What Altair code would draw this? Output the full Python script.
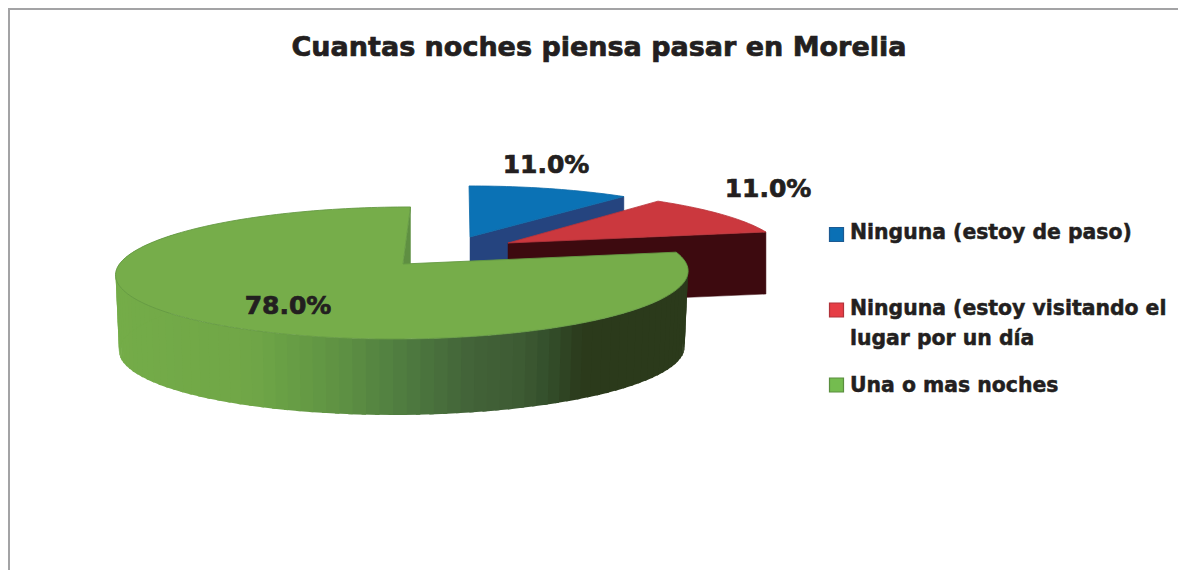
import math
import altair as alt
import pandas as pd

# ---------- data ----------
categories = ["Ninguna (estoy de paso)", "Ninguna (estoy visitando el lugar por un día", "Una o mas noches"]
shares = [11.0, 11.0, 78.0]
value_labels = ["11.0%", "11.0%", "78.0%"]
value_x = [546, 768, 288]
value_y = [165, 189, 306]
legend_lines = ["Ninguna (estoy de paso)", "Ninguna (estoy visitando el", "lugar por un día", "Una o mas noches"]
legend_line_y = [233, 309, 339, 386]
legend_key_y = [234.5, 310, 385]
legend_key_fill = ["#0a70b5", "#e63e46", "#74bc4f"]
legend_key_stroke = ["#1d5a92", "#b0333a", "#5a8e3f"]
title_text = "Cuantas noches piensa pasar en Morelia"

# ---------- pie look (position in page pixels, 3D perspective) ----------
INK = "#231f20"
K = 0.136
look = [
    dict(x0=470, y0=237, a=268, s=-1.1, b=58, depth=62, top="#0b72b5", edge="#0b6aa8", wall="#25447f"),
    dict(x0=508, y0=243, a=271, s=-9.1, b=60, depth=62, top="#cb383e", edge="#b9343a", wall="#3d0a0f"),
    dict(x0=403, y0=264, a=283.5, s=8.5, b=64.8, depth=76, top="#76ad4a", edge="#659a44", wall="#5f8f42"),
]
wall_stops = [(116, "#74ac48"), (250, "#70a647"), (280, "#69a045"), (340, "#5e9143"), (400, "#4f7c40"),
              (470, "#426238"), (520, "#3d5a33"), (545, "#344f2c"), (580, "#2b3a1b"), (700, "#2b3a1b")]


def mix(x):
    for (x1, c1), (x2, c2) in zip(wall_stops, wall_stops[1:]):
        if x <= x2:
            t = max(0.0, (x - x1) / (x2 - x1))
            p = [int(c1[i:i + 2], 16) for i in (1, 3, 5)]
            q = [int(c2[i:i + 2], 16) for i in (1, 3, 5)]
            return "#" + "".join(f"{round(u + (v - u) * t):02x}" for u, v in zip(p, q))
    return wall_stops[-1][1]


def proj(deg, g, down=0.0, shrink=1.0):
    th = math.radians(deg)
    X, Y = math.sin(th), math.cos(th)
    w = 1 + K * Y
    return [g["x0"] + (g["a"] * shrink * X + g["s"] * Y) / w, g["y0"] + down - g["b"] * Y / w]


def feature(points, fill, stroke, sw):
    return {"type": "Feature",
            "geometry": {"type": "Polygon", "coordinates": [points + [points[0]]]},
            "properties": {"fill": fill, "stroke": stroke, "sw": sw}}


def arc(a0, a1, g, down=0.0, shrink=1.0):
    n = max(2, int((a1 - a0) / 1.5))
    return [proj(a0 + (a1 - a0) * i / n, g, down, shrink) for i in range(n + 1)]


features = []
edges = [0.0]
for v in shares:
    edges.append(edges[-1] + v * 3.6)

# blue and red: the radial face that looks at the viewer, then the top
for i in (0, 1):
    g = look[i]
    apex = [g["x0"], g["y0"]]
    tip = proj(edges[i + 1], g)
    tip_low = proj(edges[i + 1], g, g["depth"])
    features.append(feature([apex, tip, tip_low, [apex[0], apex[1] + g["depth"]]], g["wall"], g["wall"], 0.5))
    features.append(feature([apex] + arc(edges[i], edges[i + 1], g), g["top"], g["edge"], 0.8))

# green: the notch face, the outer wall in narrow strips, then the top
g = look[2]
apex = [g["x0"], g["y0"]]
start = proj(360, g)
features.append(feature([apex, start, proj(360, g, g["depth"]), [apex[0], apex[1] + g["depth"]]], "#5f8f42", "#5f8f42", 0.5))
step = 2.4
d = edges[2]
while d < 300:
    e = min(d + step, 300)
    # each strip reaches a little under the next one, so no seam shows
    pts = [proj(d, g), proj(e + 0.8, g), proj(e + 0.8, g, g["depth"], 0.988), proj(d, g, g["depth"], 0.988)]
    c = mix(sum(p[0] for p in pts) / 4)
    features.append(feature(pts, c, c, 0))
    d = e
features.append(feature([apex] + arc(edges[2], 360, g), g["top"], g["edge"], 0.9))

# ---------- chart ----------
W, H = 1170, 562
xs = alt.Scale(domain=[0, 1178], range=[-8, 1170])
ys = alt.Scale(domain=[0, 570], range=[-8, 562])
X = lambda f: alt.X(f, type="quantitative", scale=xs, axis=None)
Y = lambda f: alt.Y(f, type="quantitative", scale=ys, axis=None)

pie = (
    alt.Chart(alt.Data(values=features))
    .mark_geoshape()
    .project(type="identity", scale=1, translate=[-8, -8])
    .encode(
        color=alt.Color("properties.fill:N", scale=None),
        stroke=alt.Stroke("properties.stroke:N", scale=None),
        strokeWidth=alt.StrokeWidth("properties.sw:Q", scale=None),
    )
)

frame = pd.DataFrame({"x": [8, 9], "x2": [1178, 9], "y": [9, 8], "y2": [9, 570]})
border = alt.Chart(frame).mark_rule(color="#a3a3a5", strokeWidth=2).encode(
    x=X("x"), x2="x2", y=Y("y"), y2="y2"
)

keys = pd.DataFrame({"x": [836.5] * 3, "y": legend_key_y, "fill": legend_key_fill, "line": legend_key_stroke,
                     "name": categories})
squares = alt.Chart(keys).mark_square(size=196, opacity=1, filled=True, strokeWidth=1.2).encode(
    x=X("x"), y=Y("y"),
    color=alt.Color("fill:N", scale=None),
    stroke=alt.Stroke("line:N", scale=None),
)

center = pd.DataFrame({
    "x": [599] + value_x, "y": [48] + value_y,
    "t": [title_text] + value_labels, "fs": [27] + [25] * 3,
})
center_text = alt.Chart(center).mark_text(
    font="DejaVu Sans", fontWeight="bold", align="center", baseline="middle",
    color=INK, stroke=INK, strokeWidth=0.7,
).encode(x=X("x"), y=Y("y"), text="t:N", size=alt.Size("fs:Q", scale=None))

leg = pd.DataFrame({"x": [850] * 4, "y": legend_line_y, "t": legend_lines})
legend_text = alt.Chart(leg).mark_text(
    font="DejaVu Sans", fontWeight="bold", align="left", baseline="middle", fontSize=20.4,
    color=INK, stroke=INK, strokeWidth=0.5,
).encode(x=X("x"), y=Y("y"), text="t:N")

chart = alt.layer(pie, border, squares, center_text, legend_text).properties(
    width=W, height=H, padding=0,
    autosize=alt.AutoSizeParams(type="none"),
    background="white",
).configure_view(stroke=None)

chart.save("out.html", embed_options={"renderer": "svg", "actions": False})
